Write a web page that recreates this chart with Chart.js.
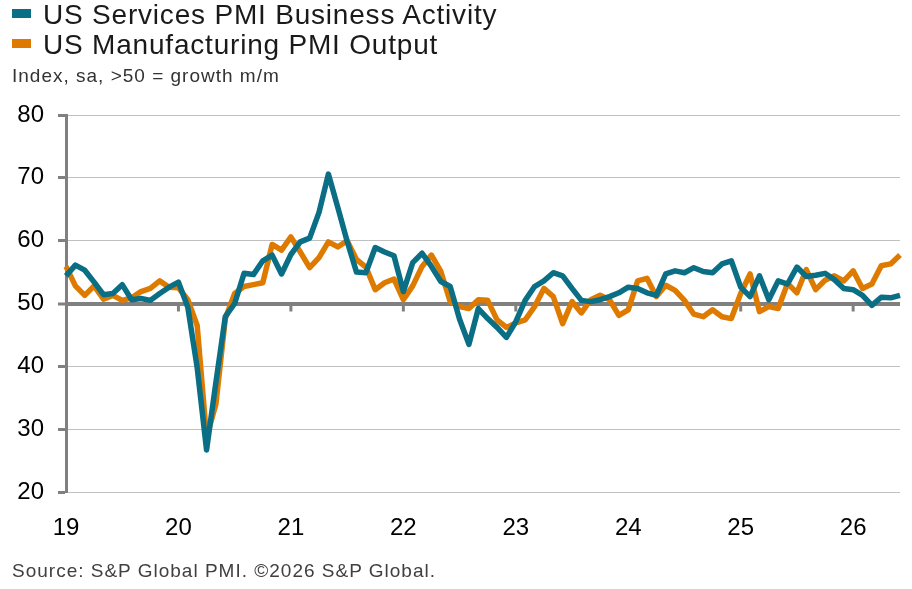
<!DOCTYPE html>
<html>
<head>
<meta charset="utf-8">
<script src="https://cdn.jsdelivr.net/npm/chart.js@4.4.1/dist/chart.umd.min.js"></script>
<style>
  body { margin: 0; background: #fff; font-family: "Liberation Sans", Arial, sans-serif; }
  #wrap { position: relative; width: 912px; height: 589px; }
  #wrap canvas { position: absolute; left: 0; top: 0; }
  .txt { position: absolute; white-space: nowrap; }
  .leg { left: 43px; font-size: 28px; line-height: 28px; letter-spacing: 0.8px; color: #1a1a1a; }
  .sw { position: absolute; left: 12px; width: 19px; height: 9px; }
  .sub { left: 12px; font-size: 19px; line-height: 19px; letter-spacing: 1px; color: #333; }
</style>
</head>
<body>
<div id="wrap">
  <canvas id="pmi" width="912" height="589"></canvas>
  <div class="sw" id="sw0" style="top:9px"></div>
  <div class="txt leg" id="lg0" style="top:1px"></div>
  <div class="sw" id="sw1" style="top:39px"></div>
  <div class="txt leg" id="lg1" style="top:31px"></div>
  <div class="txt sub" style="top:66px">Index, sa, &gt;50 = growth m/m</div>
  <div class="txt sub" style="top:561px;color:#404040">Source: S&amp;P Global PMI. ©2026 S&amp;P Global.</div>
</div>
<script>
// year tick labels, one per January, data runs Jan 2019 - Jun 2026
const yearLabels = ['19', '20', '21', '22', '23', '24', '25', '26'];
const monthCount = 90;

const seriesNames = ['US Services PMI Business Activity', 'US Manufacturing PMI Output'];
const seriesColors = ['#0a6e85', '#df7a00'];

const services = [
  54.4, 56.1, 55.3, 53.4, 51.4, 51.6, 53.0, 50.6, 50.8, 50.5,
  51.6, 52.6, 53.4, 49.4, 39.8, 26.7, 37.5, 47.9, 50.0, 54.8,
  54.6, 56.8, 57.7, 54.7, 57.8, 59.8, 60.4, 64.5, 70.6, 65.3,
  59.9, 55.0, 54.9, 58.9, 58.2, 57.6, 51.9, 56.5, 58.0, 55.9,
  53.5, 52.7, 47.5, 43.5, 49.2, 47.6, 46.2, 44.6, 47.1, 50.5,
  52.7, 53.6, 54.9, 54.4, 52.4, 50.5, 50.3, 50.6, 51.1, 51.7,
  52.6, 52.4, 51.7, 51.3, 54.7, 55.2, 54.9, 55.7, 55.1, 54.9,
  56.3, 56.8, 52.6, 51.1, 54.4, 50.6, 53.6, 53.1, 55.8, 54.3,
  54.5, 54.8, 53.8, 52.4, 52.2, 51.3, 49.7, 51.0, 50.9, 51.3
];

const manufacturing = [
  55.9, 52.8, 51.3, 52.8, 50.7, 51.3, 50.5, 50.9, 51.9, 52.4,
  53.6, 52.6, 52.5, 50.6, 46.5, 28.7, 34.0, 47.6, 51.6, 52.7,
  53.0, 53.3, 59.4, 58.5, 60.6, 58.2, 55.7, 57.3, 59.8, 59.0,
  60.0, 57.0, 55.8, 52.2, 53.3, 53.9, 50.6, 52.8, 55.9, 57.7,
  55.1, 50.3, 49.5, 49.2, 50.6, 50.5, 47.4, 46.2, 46.9, 47.4,
  49.5, 52.4, 51.1, 46.8, 50.3, 48.5, 50.6, 51.3, 50.6, 48.1,
  49.0, 53.6, 54.0, 51.1, 52.9, 52.1, 50.5, 48.3, 47.9, 49.0,
  47.9, 47.6, 51.6, 54.7, 48.7, 49.5, 49.2, 53.2, 51.7, 55.4,
  52.2, 53.7, 54.4, 53.6, 55.2, 52.4, 53.1, 56.0, 56.3, 57.7
];

const yTicks = [20, 30, 40, 50, 60, 70, 80];

// month categories, "yy-m"
let months = [];
yearLabels.forEach(y => {
  for (let m = 1; m <= 12; m++) months.push(y + '-' + m);
});
months = months.slice(0, monthCount);

// html legend
seriesNames.forEach((n, i) => {
  document.getElementById('lg' + i).textContent = n;
  document.getElementById('sw' + i).style.background = seriesColors[i];
});

const axisGrey = '#808080';

// little year marks hanging under the 50 line
const yearMarks = {
  id: 'yearMarks',
  beforeDatasetsDraw(chart) {
    const x = chart.scales.x, y = chart.scales.y;
    const ctx = chart.ctx;
    const y50 = y.getPixelForValue(50);
    ctx.save();
    ctx.strokeStyle = axisGrey;
    ctx.lineWidth = 3;
    months.forEach((m, i) => {
      if (i % 12 !== 0 || i === 0) return;
      const px = x.getPixelForValue(i);
      ctx.beginPath();
      ctx.moveTo(px, y50);
      ctx.lineTo(px, y50 + 8);
      ctx.stroke();
    });
    ctx.restore();
  }
};

new Chart(document.getElementById('pmi'), {
  type: 'line',
  data: {
    labels: months,
    datasets: [
      { label: seriesNames[0], data: services, borderColor: seriesColors[0] },
      { label: seriesNames[1], data: manufacturing, borderColor: seriesColors[1] }
    ]
  },
  options: {
    responsive: false,
    animation: false,
    events: [],
    layout: { padding: { top: 115, left: 12, right: 12, bottom: 0 } },
    elements: {
      line: { borderWidth: 5.5, tension: 0, borderJoinStyle: 'round', borderCapStyle: 'butt' },
      point: { radius: 0 }
    },
    plugins: { legend: { display: false }, tooltip: { enabled: false } },
    scales: {
      x: {
        type: 'category',
        offset: false,
        grid: { display: false, drawTicks: false },
        border: { display: false },
        ticks: {
          autoSkip: false,
          maxRotation: 0,
          padding: 22,
          color: '#000',
          font: { family: '"Liberation Sans", Arial, sans-serif', size: 24 },
          callback: (v, i) => (i % 12 === 0 ? yearLabels[i / 12] : '')
        },
        afterFit: s => {
          s.height = 97;
          s.paddingLeft = 0;
          s.paddingRight = 0;
        }
      },
      y: {
        min: 20,
        max: 80,
        afterBuildTicks: s => { s.ticks = yTicks.map(v => ({ value: v })); },
        grid: {
          color: c => (c.tick && c.tick.value === 50 ? axisGrey : '#c0c0c0'),
          lineWidth: c => (c.tick && c.tick.value === 50 ? 4 : 1),
          tickColor: axisGrey,
          tickWidth: 3,
          tickLength: 8
        },
        border: { display: true, color: axisGrey, width: 3 },
        ticks: {
          padding: 14,
          color: '#000',
          font: { family: '"Liberation Sans", Arial, sans-serif', size: 24 }
        },
        afterFit: s => { s.width = 54; }
      }
    }
  },
  plugins: [yearMarks]
});
</script>
</body>
</html>
